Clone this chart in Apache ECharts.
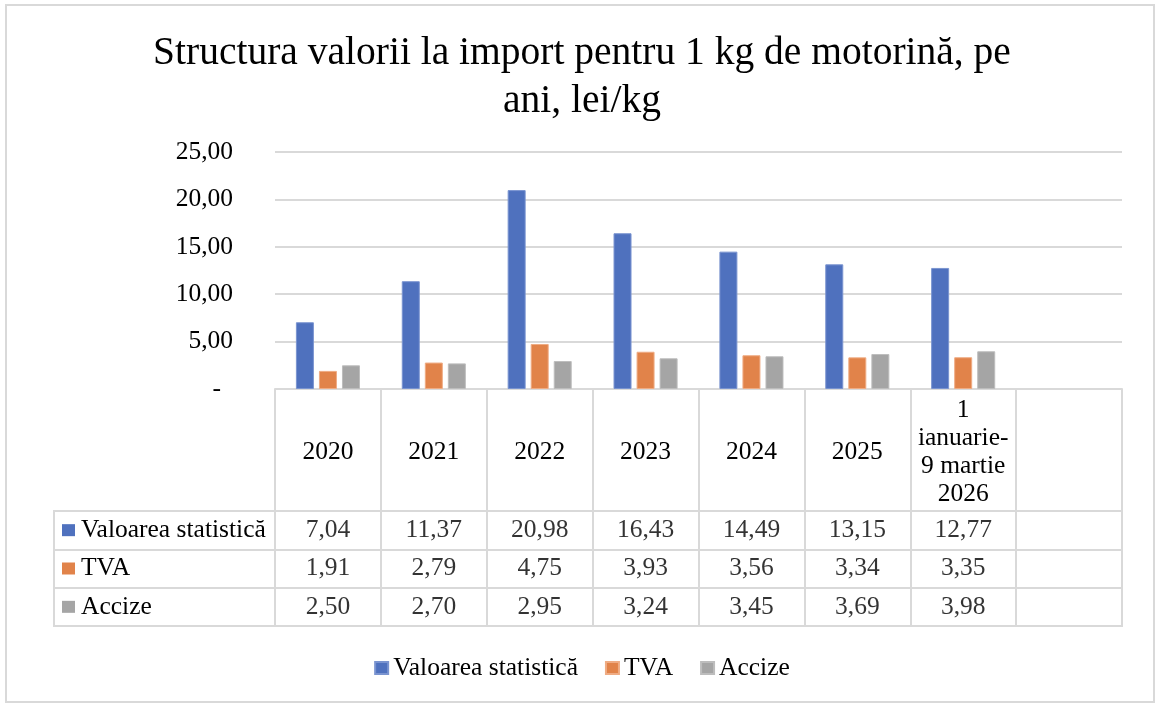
<!DOCTYPE html>
<html>
<head>
<meta charset="utf-8">
<script src="https://cdn.jsdelivr.net/npm/echarts@6/dist/echarts.min.js"></script>
<style>
html,body{margin:0;padding:0;background:#fff;}
#chart{width:1164px;height:708px;}
</style>
</head>
<body>
<div id="chart"></div>
<script>
let categories = ['2020','2021','2022','2023','2024','2025','1\nianuarie-\n9 martie\n2026',''];
let seriesNames = ['Valoarea statistică','TVA','Accize'];
let valoare = [7.04, 11.37, 20.98, 16.43, 14.49, 13.15, 12.77];
let tva = [1.91, 2.79, 4.75, 3.93, 3.56, 3.34, 3.35];
let accize = [2.50, 2.70, 2.95, 3.24, 3.45, 3.69, 3.98];
let colors = ['#4F71BE','#E1834A','#A5A5A5'];
let borders = ['#7a94d0','#efac84','#bdbdbd'];

let font = 'Liberation Serif';
let lineColor = '#d9d9d9';

function fmt(v){
    return v.toFixed(2).replace('.', ',');
}

//celule tabel
let allSeries = [valoare, tva, accize];
let tableData = [];
for(let r=0;r<allSeries.length;r++){
    for(let i=0;i<allSeries[r].length;i++){
        tableData.push([i, r, allSeries[r][i]]);
    }
}

let rowRich = {
    t: {fontFamily: font, fontSize: 25.5, color: '#000', padding: [0,0,0,6]}
};
colors.forEach(function(c, i){
    rowRich['i' + i] = {backgroundColor: c, width: 13, height: 12};
});

let chart = echarts.init(document.getElementById('chart'));
let option = {
    backgroundColor: '#fff',
    animation: false,
    title: {
        text: 'Structura valorii la import pentru 1 kg de motorină, pe\nani, lei/kg',
        left: 'center',
        top: 25,
        textStyle: {fontFamily: font, fontSize: 39.5, fontWeight: 'normal', color: '#000', lineHeight: 48}
    },
    legend: {
        data: seriesNames,
        left: 'center',
        top: 650,
        icon: 'rect',
        itemWidth: 13,
        itemHeight: 12,
        itemGap: 27,
        textStyle: {fontFamily: font, fontSize: 25.5, color: '#000'}
    },
    graphic: [{
        type: 'rect',
        shape: {x: 6, y: 5, width: 1148, height: 697},
        style: {fill: 'none', stroke: lineColor, lineWidth: 2},
        silent: true
    }],
    grid: [
        {left: 275, top: 152, width: 847, height: 237},
        {left: 275, top: 511, width: 847, height: 115, show: true, borderColor: lineColor, borderWidth: 2},
        {left: 54, top: 511, width: 221, height: 115, show: true, borderColor: lineColor, borderWidth: 2}
    ],
    xAxis: [
        {
            type: 'category', gridIndex: 0, data: categories, boundaryGap: true,
            axisLine: {show: true, lineStyle: {color: lineColor, width: 2}},
            axisTick: {show: true, interval: 0, length: 122, lineStyle: {color: lineColor, width: 2}},
            axisLabel: {interval: 0, margin: 63, verticalAlign: 'middle', fontFamily: font, fontSize: 25.5, color: '#000', lineHeight: 28}
        },
        {
            type: 'category', gridIndex: 1, data: categories, boundaryGap: true,
            axisLine: {show: false}, axisTick: {show: false}, axisLabel: {show: false},
            splitLine: {show: true, interval: 0, lineStyle: {color: lineColor, width: 2}}
        },
        {
            type: 'value', gridIndex: 2, show: false
        }
    ],
    yAxis: [
        {
            type: 'value', gridIndex: 0, min: 0, max: 25, interval: 5,
            axisLine: {show: false}, axisTick: {show: false},
            splitLine: {lineStyle: {color: lineColor, width: 2}},
            axisLabel: {
                margin: 42,
                fontFamily: font, fontSize: 25.5, color: '#000',
                formatter: function(v){
                    return v === 0 ? '{z|-}' : fmt(v);
                },
                rich: {z: {fontFamily: font, fontSize: 25.5, color: '#000', padding: [0,12,0,0]}}
            }
        },
        {
            type: 'category', gridIndex: 1, data: seriesNames, inverse: true,
            axisLine: {show: false}, axisTick: {show: false}, axisLabel: {show: false},
            splitLine: {show: true, interval: 0, lineStyle: {color: lineColor, width: 2}}
        },
        {
            type: 'category', gridIndex: 2, data: seriesNames, inverse: true,
            axisLine: {show: false}, axisTick: {show: false},
            splitLine: {show: true, interval: 0, lineStyle: {color: lineColor, width: 2}},
            axisLabel: {
                inside: true, align: 'left', margin: 8,
                formatter: function(v, idx){
                    return '{i' + idx + '|}{t|' + v + '}';
                },
                rich: rowRich
            }
        }
    ],
    series: [
        {name: seriesNames[0], type: 'bar', xAxisIndex: 0, yAxisIndex: 0, data: valoare, barWidth: 18, barGap: '28%', itemStyle: {color: colors[0], borderColor: borders[0], borderWidth: 1}},
        {name: seriesNames[1], type: 'bar', xAxisIndex: 0, yAxisIndex: 0, data: tva, barWidth: 18, barGap: '28%', itemStyle: {color: colors[1], borderColor: borders[1], borderWidth: 1}},
        {name: seriesNames[2], type: 'bar', xAxisIndex: 0, yAxisIndex: 0, data: accize, barWidth: 18, barGap: '28%', itemStyle: {color: colors[2], borderColor: borders[2], borderWidth: 1}},
        {
            name: 'tabel', type: 'scatter', xAxisIndex: 1, yAxisIndex: 1,
            symbolSize: 1, itemStyle: {color: 'transparent'},
            data: tableData,
            label: {
                show: true, position: 'inside',
                fontFamily: font, fontSize: 25.5, color: '#000',
                formatter: function(p){ return fmt(p.value[2]); }
            }
        }
    ]
};
chart.setOption(option);
</script>
</body>
</html>
